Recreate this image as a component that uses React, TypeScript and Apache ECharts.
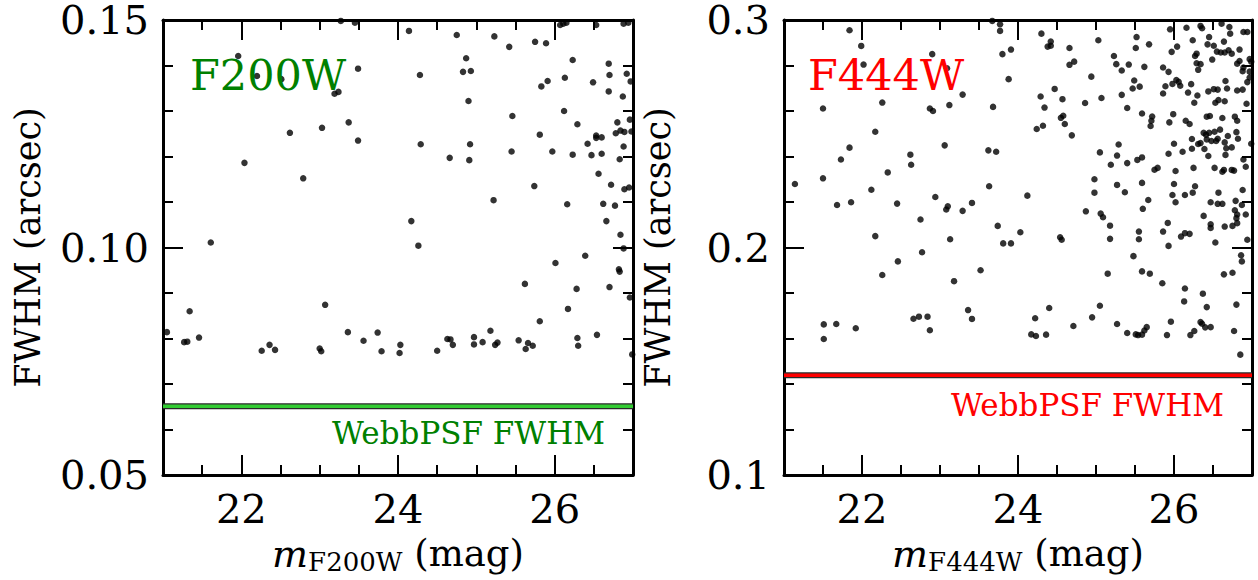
import { useEffect, useRef } from "react";
import * as echarts from "echarts";

// ---------- axis settings ----------
const X_MIN = 21;
const X_MAX = 27;
const X_LABEL_TICKS = [22, 24, 26];
const F200W_Y_MIN = 0.05;
const F200W_Y_MAX = 0.15;
const F200W_Y_STEP = 0.05;
const F444W_Y_MIN = 0.1;
const F444W_Y_MAX = 0.3;
const F444W_Y_STEP = 0.1;

// ---------- WebbPSF reference FWHM ----------
const WEBB_F200W = 0.0651;
const WEBB_F444W = 0.1438;

// ---------- F200W sources ----------
const f200wMag = [
  23.27, 23.45, 23.49, 22.2, 22.51, 23.19, 23.24, 23.37, 23.03, 22.62, 23.49, 22.04, 22.79, 21.61, 21.96,
  24.14, 24.75, 25.23, 25.42, 25.75, 25.89, 26.07, 26.11, 26.15, 26.53, 26.88, 26.94, 24.87, 26.23, 26.69,
  24.28, 24.83, 24.93, 26.92, 26.7, 26.13, 26.49, 26.97, 25.91, 25.83, 26.69, 24.9, 26.87, 26.12, 25.46,
  26.8, 26.96, 26.29, 26.84, 26.89, 26.78, 26.98, 25.81, 26.53, 26.53, 26.6, 24.29, 24.92, 26.42, 26.88,
  24.66, 24.91, 25.45, 25.97, 26.23, 26.47, 26.6, 26.83, 26.56, 26.72, 26.89, 26.95, 25.74, 25.22, 26.16,
  26.62, 26.77, 24.17, 26.66, 26.84, 24.26, 26.88,
  21.05, 21.34, 21.27, 21.31, 21.46, 22.26, 22.36, 22.43, 23.0, 23.02, 23.07, 23.36, 23.56, 23.74, 23.79,
  24.02, 24.03, 24.5, 24.63, 24.67, 24.7, 24.97, 24.97, 25.08, 25.18, 25.24, 25.27, 25.54, 25.62, 25.63,
  25.66, 25.72, 25.81, 26.01, 26.17, 26.28, 26.29, 26.3, 26.39, 26.54, 26.7, 26.82, 26.83, 26.99, 26.96,
];
const f200wFwhm = [
  0.1498, 0.1494, 0.1393, 0.1377, 0.137, 0.1338, 0.1342, 0.1275, 0.1263, 0.1252, 0.1235, 0.1186, 0.1152, 0.1011, 0.1421,
  0.1476, 0.1467, 0.1464, 0.1441, 0.1452, 0.1449, 0.1489, 0.1492, 0.1494, 0.1489, 0.1492, 0.1494, 0.1416, 0.1412, 0.1404,
  0.1379, 0.1386, 0.1388, 0.1382, 0.1379, 0.1373, 0.1363, 0.1365, 0.1366, 0.1354, 0.1343, 0.1322, 0.1332, 0.13, 0.1289,
  0.1275, 0.1281, 0.1271, 0.1257, 0.1254, 0.1251, 0.1255, 0.1248, 0.1246, 0.1241, 0.1242, 0.1227, 0.1227, 0.1228, 0.1222,
  0.1197, 0.1192, 0.1211, 0.1211, 0.1204, 0.1203, 0.1206, 0.1194, 0.1162, 0.1138, 0.1128, 0.1132, 0.1135, 0.1104, 0.1095,
  0.1096, 0.1092, 0.1058, 0.1058, 0.1028, 0.1004, 0.0998,
  0.0814, 0.086, 0.0792, 0.0793, 0.0802, 0.0773, 0.0786, 0.0775, 0.0778, 0.0772, 0.0874, 0.0814, 0.0795, 0.0813, 0.0772,
  0.0768, 0.0786, 0.0773, 0.0799, 0.0798, 0.0786, 0.0803, 0.0787, 0.0792, 0.0817, 0.0786, 0.0791, 0.0796, 0.092, 0.0777,
  0.079, 0.0784, 0.0838, 0.0966, 0.0865, 0.0909, 0.0801, 0.0784, 0.0982, 0.0808, 0.0913, 0.0952, 0.0947, 0.0765, 0.089,
];

// ---------- F444W sources ----------
const f444wMag = [
  21.84, 21.99, 22.02, 23.67, 23.77, 23.77, 23.8, 23.91, 23.88, 22.9, 23.09, 23.29, 23.12, 22.26, 21.5,
  22.87, 22.91, 23.68, 22.17, 21.84, 21.73, 23.06, 22.62, 22.63, 23.62, 23.72, 22.33, 21.14, 21.5, 22.12,
  23.63, 22.94, 21.68, 21.86, 22.45, 23.08, 23.1, 23.29, 23.41, 22.75, 23.74, 22.17, 23.13, 23.81, 23.91,
  24.03, 22.77, 22.26, 22.46, 23.18, 23.52, 21.51, 21.51, 21.67, 21.92, 22.66, 22.73, 22.84, 22.87, 23.36,
  23.41,
  24.3, 24.42, 24.38, 24.42, 24.66, 25.03, 25.52, 25.51, 25.68, 25.95, 26.16, 26.34, 26.36, 26.61, 26.71,
  26.72, 26.89, 26.94, 26.24, 26.45, 26.43, 26.51, 26.64, 26.04, 25.97, 26.55, 26.6, 26.65, 26.7, 26.74,
  26.84, 26.29, 26.27, 26.49, 26.97, 26.99, 25.23, 24.66, 24.72, 25.26, 25.33, 25.42, 25.62, 25.86, 25.93,
  26.29, 26.34, 26.31, 26.81, 26.84, 26.89, 26.88, 26.97, 24.94, 25.49, 25.47, 25.56, 25.98, 26.03, 26.06,
  26.08, 25.89, 25.86, 26.22, 26.18, 26.66, 26.94, 26.97, 24.47, 24.29, 24.34, 24.57, 24.86, 25.07, 25.33,
  25.4, 26.3, 26.26, 26.44, 26.51, 26.56, 26.68, 26.81, 26.88, 26.57, 26.65, 26.53, 26.93, 24.55, 24.58,
  24.6, 24.24, 24.32, 24.69, 25.59, 25.72, 25.71, 25.7, 25.94, 25.99, 26.15, 26.2, 26.42, 26.46, 26.62,
  26.78, 26.81, 26.23, 26.38, 26.41, 26.45, 26.52, 26.59, 26.8, 26.69, 26.31, 26.34, 26.42, 26.48, 26.54,
  26.56, 26.65, 26.67, 26.74, 26.82, 26.99, 26.0, 25.29, 26.23, 26.39, 25.05, 25.27, 25.4, 25.53, 25.59,
  25.93, 26.11, 26.44, 26.66, 26.89, 26.92, 25.19, 25.75, 25.79, 26.02, 26.25, 26.52, 26.62, 26.64, 26.74,
  26.77, 24.98, 24.98, 25.27, 25.37, 25.59, 26.0, 25.98, 26.02, 26.14, 26.24, 26.27, 26.57, 26.88, 24.12,
  25.67, 26.47, 26.56, 26.62, 26.79, 26.87, 24.87, 25.06, 25.09, 25.6, 26.38, 26.78, 26.81, 26.8, 26.92,
  25.92, 26.47, 26.47, 26.65, 26.75, 26.81, 25.18, 24.54, 24.56, 25.18, 25.55, 25.55, 25.86, 26.09, 26.14,
  26.2, 25.93, 26.53, 26.94,
  25.48, 25.15, 25.59, 25.69, 25.85, 26.14, 26.13, 26.37, 26.42, 26.64, 26.75, 26.86, 26.87, 26.8, 24.4,
  24.22, 24.17, 24.23, 24.36, 24.71, 24.95, 25.05, 25.27, 25.4, 25.51, 25.54, 25.59, 25.62, 25.65, 25.91,
  25.96, 26.21, 26.26, 26.34, 26.36, 26.4, 26.47, 26.77, 26.85,
];
const f444wFwhm = [
  0.2955, 0.2886, 0.2804, 0.2996, 0.2981, 0.2952, 0.285, 0.287, 0.274, 0.285, 0.2788, 0.2672, 0.2626, 0.2637, 0.2611,
  0.2611, 0.26, 0.2618, 0.2509, 0.2439, 0.2387, 0.2449, 0.2408, 0.2364, 0.2427, 0.2421, 0.233, 0.2279, 0.2304, 0.2254,
  0.2269, 0.2222, 0.2187, 0.2199, 0.2193, 0.2167, 0.2181, 0.2161, 0.2196, 0.2123, 0.2095, 0.205, 0.2036, 0.2018, 0.2018,
  0.2067, 0.1979, 0.1879, 0.1939, 0.1852, 0.19, 0.1662, 0.1598, 0.1664, 0.1645, 0.1687, 0.1696, 0.1696, 0.1636, 0.1725,
  0.1686,
  0.294, 0.2905, 0.2883, 0.2887, 0.2877, 0.2911, 0.2925, 0.2877, 0.2893, 0.2959, 0.2966, 0.2974, 0.2964, 0.2984, 0.2969,
  0.294, 0.2947, 0.2947, 0.2911, 0.2925, 0.2893, 0.2887, 0.2905, 0.2883, 0.286, 0.2861, 0.2857, 0.2857, 0.2867, 0.2852,
  0.287, 0.2852, 0.2842, 0.2826, 0.2828, 0.2817, 0.2842, 0.2803, 0.2817, 0.2806, 0.2778, 0.2804, 0.2794, 0.2791, 0.2772,
  0.281, 0.2806, 0.2781, 0.2808, 0.282, 0.2791, 0.2775, 0.2773, 0.2751, 0.2734, 0.2699, 0.2707, 0.2719, 0.2736, 0.2728,
  0.2711, 0.2709, 0.2677, 0.2718, 0.2681, 0.2732, 0.2727, 0.2747, 0.2697, 0.2664, 0.2615, 0.2652, 0.2635, 0.2657, 0.2671,
  0.2613, 0.2668, 0.2636, 0.2686, 0.2696, 0.2694, 0.2699, 0.269, 0.2694, 0.2648, 0.2643, 0.2636, 0.2632, 0.257, 0.2579,
  0.2543, 0.2521, 0.2535, 0.2493, 0.2589, 0.2576, 0.2557, 0.2534, 0.255, 0.2586, 0.2557, 0.2543, 0.2575, 0.2578, 0.2569,
  0.2575, 0.2557, 0.2477, 0.2504, 0.2496, 0.2504, 0.2509, 0.2518, 0.2507, 0.249, 0.2455, 0.2459, 0.2475, 0.2468, 0.2468,
  0.2478, 0.2462, 0.2436, 0.244, 0.2478, 0.2456, 0.2456, 0.2453, 0.2434, 0.2433, 0.2418, 0.2404, 0.2371, 0.2385, 0.2396,
  0.2412, 0.2421, 0.2402, 0.2407, 0.2387, 0.2355, 0.2364, 0.2342, 0.235, 0.2336, 0.235, 0.235, 0.2333, 0.2341, 0.2341,
  0.2338, 0.23, 0.2241, 0.2275, 0.2243, 0.2284, 0.2279, 0.2231, 0.2199, 0.2231, 0.2241, 0.2269, 0.2241, 0.2253, 0.2228,
  0.2209, 0.2199, 0.2192, 0.2192, 0.2205, 0.2187, 0.2159, 0.2149, 0.2133, 0.217, 0.2139, 0.2164, 0.2145, 0.2129, 0.2145,
  0.2108, 0.2102, 0.2086, 0.2092, 0.2095, 0.2107, 0.2096, 0.2045, 0.2034, 0.2038, 0.207, 0.2036, 0.207, 0.2048, 0.2063,
  0.206, 0.2007, 0.2022, 0.2034,
  0.1962, 0.1885, 0.1895, 0.1885, 0.1843, 0.182, 0.1763, 0.1797, 0.1738, 0.1882, 0.1889, 0.1966, 0.1939, 0.1749, 0.1734,
  0.1689, 0.1618, 0.1611, 0.1617, 0.1655, 0.1693, 0.1744, 0.1664, 0.1624, 0.1618, 0.1615, 0.1617, 0.1635, 0.165, 0.1615,
  0.1674, 0.1615, 0.1633, 0.1672, 0.1665, 0.1649, 0.165, 0.1633, 0.1529,
];

const SERIF = "DejaVu Serif";
const GREEN_TXT = "#008000";
const GREEN_LINE = "#33cc33";
const RED = "#ff0000";

function pairs(xs: number[], ys: number[]) {
  return xs.map((x, i) => [x, ys[i]]);
}

function xAxesFor(gridIndex: number, bandLabel: string) {
  const common = {
    gridIndex,
    type: "value",
    min: X_MIN,
    max: X_MAX,
    splitLine: { show: false },
  };
  return [
    {
      ...common,
      position: "bottom",
      interval: 1,
      axisLine: { show: true, onZero: false, lineStyle: { color: "#000", width: 3 } },
      axisTick: { show: true, inside: true, length: 20, customValues: X_LABEL_TICKS, lineStyle: { color: "#000", width: 2 } },
      axisLabel: {
        show: true,
        customValues: X_LABEL_TICKS,
        margin: 14,
        color: "#000",
        fontSize: 40,
        fontFamily: SERIF,
        formatter: (v: number) => String(v),
      },
      name: `{m|m}{s|${bandLabel}}{n| (mag)}`,
      nameLocation: "middle",
      nameGap: 60,
      nameTextStyle: {
        color: "#000",
        fontFamily: SERIF,
        rich: {
          m: { fontFamily: SERIF, fontStyle: "italic", fontSize: 38, color: "#000", lineHeight: 40, verticalAlign: "top" },
          s: { fontFamily: SERIF, fontSize: 26, color: "#000", lineHeight: 16, verticalAlign: "bottom" },
          n: { fontFamily: SERIF, fontSize: 37, color: "#000", lineHeight: 40, verticalAlign: "top" },
        },
      },
    },
    {
      ...common,
      position: "bottom",
      interval: 0.5,
      axisLine: { show: false, onZero: false },
      axisTick: { show: true, inside: true, length: 10, lineStyle: { color: "#000", width: 2 } },
      axisLabel: { show: false },
    },
    {
      ...common,
      position: "top",
      interval: 1,
      axisLine: { show: true, onZero: false, lineStyle: { color: "#000", width: 3 } },
      axisTick: { show: true, inside: true, length: 20, customValues: X_LABEL_TICKS, lineStyle: { color: "#000", width: 2 } },
      axisLabel: { show: false },
    },
    {
      ...common,
      position: "top",
      interval: 0.5,
      axisLine: { show: false, onZero: false },
      axisTick: { show: true, inside: true, length: 10, lineStyle: { color: "#000", width: 2 } },
      axisLabel: { show: false },
    },
  ];
}

function yAxesFor(gridIndex: number, min: number, max: number, step: number, digits: number, nameGap: number) {
  const common = {
    gridIndex,
    type: "value",
    min,
    max,
    interval: step,
    splitLine: { show: false },
    axisTick: { show: true, inside: true, length: 20, lineStyle: { color: "#000", width: 2 } },
    minorTick: { show: true, splitNumber: 5, length: 10, lineStyle: { color: "#000", width: 2 } },
    minorSplitLine: { show: false },
    axisLine: { show: true, onZero: false, lineStyle: { color: "#000", width: 3 } },
  };
  return [
    {
      ...common,
      position: "left",
      axisLabel: {
        show: true,
        margin: 14,
        color: "#000",
        fontSize: 40,
        lineHeight: 34,
        fontFamily: SERIF,
        formatter: (v: number) => v.toFixed(digits),
      },
      name: "FWHM (arcsec)",
      nameLocation: "middle",
      nameGap,
      nameTextStyle: { color: "#000", fontSize: 35, fontFamily: SERIF },
    },
    {
      ...common,
      position: "right",
      axisLabel: { show: false },
    },
  ];
}

function refLine(xi: number, yi: number, value: number, color: string, width: number, z: number) {
  return {
    type: "line",
    xAxisIndex: xi,
    yAxisIndex: yi,
    data: [
      [X_MIN, value],
      [X_MAX, value],
    ],
    showSymbol: false,
    symbol: "none",
    silent: true,
    z,
    lineStyle: { color, width, type: "solid" },
    emphasis: { disabled: true },
  };
}

export default function App() {
  const ref = useRef<HTMLDivElement>(null);

  useEffect(() => {
    document.body.style.margin = "0";
    if (!ref.current) return;
    const chart = echarts.init(ref.current, null, { renderer: "svg" });

    const option = {
      animation: false,
      backgroundColor: "#fff",
      grid: [
        { left: 163, top: 19, width: 470, height: 456, containLabel: false },
        { left: 784, top: 19, width: 468, height: 456, containLabel: false },
      ],
      xAxis: [...xAxesFor(0, "F200W"), ...xAxesFor(1, "F444W")],
      yAxis: [
        ...yAxesFor(0, F200W_Y_MIN, F200W_Y_MAX, F200W_Y_STEP, 2, 118),
        ...yAxesFor(1, F444W_Y_MIN, F444W_Y_MAX, F444W_Y_STEP, 1, 109),
      ],
      series: [
        {
          type: "scatter",
          xAxisIndex: 0,
          yAxisIndex: 0,
          symbol: "circle",
          symbolSize: 6.5,
          itemStyle: { color: "#000" },
          data: pairs(f200wMag, f200wFwhm),
          z: 2,
        },
        {
          type: "scatter",
          xAxisIndex: 4,
          yAxisIndex: 2,
          symbol: "circle",
          symbolSize: 6.5,
          itemStyle: { color: "#000" },
          data: pairs(f444wMag, f444wFwhm),
          z: 2,
        },
        refLine(0, 0, WEBB_F200W, "#2a2a2a", 6, 3),
        refLine(0, 0, WEBB_F200W, GREEN_LINE, 3.5, 4),
        refLine(4, 2, WEBB_F444W, "#2a2a2a", 6, 3),
        refLine(4, 2, WEBB_F444W, RED, 3.5, 4),
      ],
      graphic: [
        {
          type: "text",
          x: 190,
          y: 75,
          z: 100,
          style: { text: "F200W", fill: GREEN_TXT, fontSize: 43, fontFamily: SERIF, align: "left", verticalAlign: "middle" },
        },
        {
          type: "text",
          x: 808,
          y: 75,
          z: 100,
          style: { text: "F444W", fill: RED, fontSize: 43, fontFamily: SERIF, align: "left", verticalAlign: "middle" },
        },
        {
          type: "text",
          x: 605,
          y: 433,
          z: 100,
          style: { text: "WebbPSF FWHM", fill: GREEN_TXT, fontSize: 31, fontFamily: SERIF, align: "right", verticalAlign: "middle" },
        },
        {
          type: "text",
          x: 1224,
          y: 405,
          z: 100,
          style: { text: "WebbPSF FWHM", fill: RED, fontSize: 31, fontFamily: SERIF, align: "right", verticalAlign: "middle" },
        },
      ],
    };

    chart.setOption(option as any);
    return () => chart.dispose();
  }, []);

  return <div ref={ref} style={{ width: 1258, height: 580 }} />;
}
